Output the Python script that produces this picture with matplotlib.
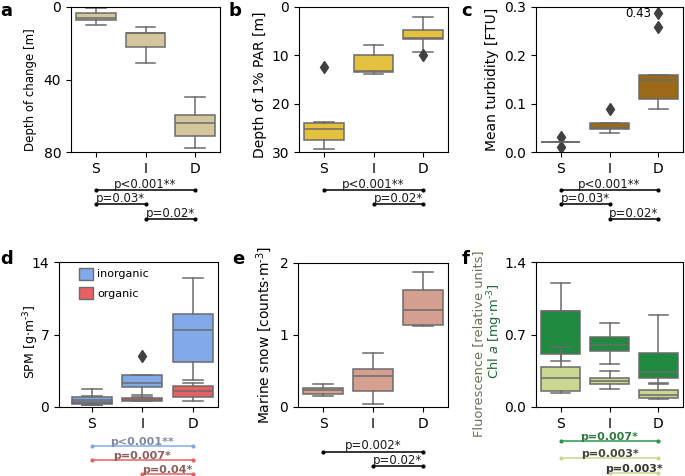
import matplotlib
matplotlib.use("Agg")
import matplotlib.pyplot as plt
from matplotlib.patches import Patch
from matplotlib.transforms import blended_transform_factory

plt.rcParams['font.family'] = 'DejaVu Sans'

# ---- data ----
groups = ['S', 'I', 'D']

# a: depth of change [m]
chg_q1 = [3.1, 14.2, 59.7]
chg_med = [5.9, 14.6, 64.2]
chg_q3 = [7.4, 22.0, 71.3]
chg_lo = [0.3, 10.8, 49.6]
chg_hi = [9.7, 30.7, 77.6]
chg_fl = [[], [], []]

# b: depth of 1% PAR [m]
par_q1 = [23.9, 9.9, 4.7]
par_med = [25.2, 13.3, 6.4]
par_q3 = [27.6, 13.5, 6.6]
par_lo = [23.8, 7.8, 2.1]
par_hi = [29.4, 13.8, 9.3]
par_fl = [[12.4], [], [10.0]]

# c: mean turbidity [FTU]
tur_q1 = [0.020, 0.047, 0.109]
tur_med = [0.020, 0.049, 0.150]
tur_q3 = [0.020, 0.060, 0.159]
tur_lo = [0.020, 0.039, 0.090]
tur_hi = [0.020, 0.060, 0.159]
tur_fl = [[0.031, 0.010], [0.089], [0.259, 0.287]]
tur_clip_label = '0.43'

# d: SPM [g m-3], inorganic / organic
inorg_q1 = [0.35, 1.93, 4.32]
inorg_med = [0.70, 2.35, 7.39]
inorg_q3 = [1.00, 3.09, 8.94]
inorg_lo = [0.20, 1.16, 2.58]
inorg_hi = [1.70, 3.09, 12.5]
inorg_fl = [[], [4.94], []]
org_q1 = [0.30, 0.61, 0.97]
org_med = [0.45, 0.72, 1.52]
org_q3 = [0.60, 0.90, 2.00]
org_lo = [0.20, 0.55, 0.55]
org_hi = [1.05, 0.95, 2.35]
org_fl = [[], [], []]

# e: marine snow [counts m-3]
snow_q1 = [0.185, 0.227, 1.139]
snow_med = [0.231, 0.435, 1.343]
snow_q3 = [0.264, 0.532, 1.625]
snow_lo = [0.157, 0.046, 1.125]
snow_hi = [0.324, 0.750, 1.875]
snow_fl = [[], [], []]

# f: chl a [mg m-3] and fluorescence [relative units]
chl_q1 = [0.512, 0.537, 0.283]
chl_med = [0.927, 0.595, 0.338]
chl_q3 = [0.927, 0.676, 0.525]
chl_lo = [0.444, 0.418, 0.225]
chl_hi = [1.200, 0.815, 0.888]
chl_fl = [[], [], []]
fluo_q1 = [0.154, 0.219, 0.087]
fluo_med = [0.283, 0.251, 0.119]
fluo_q3 = [0.386, 0.283, 0.161]
fluo_lo = [0.140, 0.174, 0.077]
fluo_hi = [0.580, 0.344, 0.232]
fluo_fl = [[], [], []]

# significance brackets: (from, to), label
sig_a = [((0, 2), 'p<0.001**'), ((0, 1), 'p=0.03*'), ((1, 2), 'p=0.02*')]
sig_b = [((0, 2), 'p<0.001**'), ((1, 2), 'p=0.02*')]
sig_c = [((0, 2), 'p<0.001**'), ((0, 1), 'p=0.03*'), ((1, 2), 'p=0.02*')]
sig_d = [((0, 2), 'p<0.001**'), ((0, 2), 'p=0.007*'), ((1, 2), 'p=0.04*')]
sig_e = [((0, 2), 'p=0.002*'), ((1, 2), 'p=0.02*')]
sig_f = [((0, 2), 'p=0.007*'), ((0, 2), 'p=0.003*'), ((1, 2), 'p=0.003*')]

EDGE = '0.42'
FS = 10


def make_stats(q1, med, q3, lo, hi, fl):
    return [dict(q1=q1[i], med=med[i], q3=q3[i], whislo=lo[i], whishi=hi[i],
                 fliers=fl[i], label=groups[i]) for i in range(len(groups))]


def draw_boxes(ax, stats, color):
    ax.bxp(stats, positions=range(len(groups)), widths=0.8, patch_artist=True,
           boxprops=dict(facecolor=color, edgecolor=EDGE, linewidth=1.1),
           medianprops=dict(color=EDGE, linewidth=1.1),
           whiskerprops=dict(color=EDGE, linewidth=1.1),
           capprops=dict(color=EDGE, linewidth=1.1),
           flierprops=dict(marker='d', markerfacecolor='0.25', markeredgecolor='0.25',
                           markersize=6.5))


def style_axis(ax, ylim, yticks, ylabel=None, xlim=(-0.5, 2.5), lsize=FS):
    ax.set_xlim(*xlim)
    ax.set_ylim(*ylim)
    ax.set_yticks(yticks)
    ax.set_xticks(range(len(groups)))
    ax.set_xticklabels(groups)
    ax.tick_params(labelsize=FS)
    if ylabel:
        ax.set_ylabel(ylabel, fontsize=lsize)


def draw_sig(ax, sig, rows, line_colors, text_colors, bold=False, fs=8.5):
    trans = blended_transform_factory(ax.transData, ax.transAxes)
    for ((x0, x1), lab), y, lc, tc in zip(sig, rows, line_colors, text_colors):
        ax.plot([x0, x1], [y, y], color=lc, lw=1.1, marker='o', markersize=2,
                transform=trans, clip_on=False)
        ax.text((x0 + x1) / 2, y - 0.005, lab, ha='center', va='bottom', fontsize=fs,
                color=tc, fontweight='bold' if bold else 'normal',
                transform=trans, clip_on=False)


W, H = 685, 476
fig = plt.figure(figsize=(6.85, 4.76), dpi=100)


def add_ax(l, r, t, b):
    return fig.add_axes([l / W, 1 - b / H, (r - l) / W, (b - t) / H])


ax_a = add_ax(71, 220, 7, 152)
ax_b = add_ax(299, 448, 7, 152)
ax_c = add_ax(536, 683, 7, 152)
ax_d = add_ax(59, 218, 262, 407)
ax_e = add_ax(298, 448, 263, 407)
ax_f = add_ax(536, 683, 262, 407)

# a
draw_boxes(ax_a, make_stats(chg_q1, chg_med, chg_q3, chg_lo, chg_hi, chg_fl), '#d3c59c')
style_axis(ax_a, (80, 0), [0, 40, 80], 'Depth of change [m]', lsize=8.5)
ax_a.yaxis.set_label_coords(-0.23, 0.43)
draw_sig(ax_a, sig_a, [-0.262, -0.359, -0.462], ['k'] * 3, ['0.1'] * 3)

# b
draw_boxes(ax_b, make_stats(par_q1, par_med, par_q3, par_lo, par_hi, par_fl), '#e3c13f')
style_axis(ax_b, (30, 0), [0, 10, 20, 30], 'Depth of 1% PAR [m]')
ax_b.yaxis.set_label_coords(-0.215, 0.466)
draw_sig(ax_b, sig_b, [-0.262, -0.359], ['k'] * 2, ['0.1'] * 2)

# c
draw_boxes(ax_c, make_stats(tur_q1, tur_med, tur_q3, tur_lo, tur_hi, tur_fl), '#9a6a18')
style_axis(ax_c, (0, 0.3), [0.0, 0.1, 0.2, 0.3], 'Mean turbidity [FTU]')
ax_c.annotate(tur_clip_label, (2, max(tur_fl[2])), xytext=(-5, 0), textcoords='offset points',
              ha='right', va='center', fontsize=8.5)
draw_sig(ax_c, sig_c, [-0.262, -0.359, -0.462], ['k'] * 3, ['0.1'] * 3)

# d
draw_boxes(ax_d, make_stats(org_q1, org_med, org_q3, org_lo, org_hi, org_fl), '#e86060')
draw_boxes(ax_d, make_stats(inorg_q1, inorg_med, inorg_q3, inorg_lo, inorg_hi, inorg_fl), '#82aaea')
style_axis(ax_d, (0, 14), [0, 7, 14], r'SPM [g$\cdot$m$^{\text{-}3}$]', xlim=(-0.65, 2.5),
           lsize=9)
ax_d.yaxis.set_label_coords(-0.115, 0.45)
ax_d.legend(handles=[Patch(facecolor='#82aaea', edgecolor=EDGE, label='inorganic'),
                     Patch(facecolor='#e86060', edgecolor=EDGE, label='organic')],
            loc='upper left', bbox_to_anchor=(0.125, 0.96), frameon=False, fontsize=8,
            handlelength=1.25, handleheight=1.25, borderaxespad=0, borderpad=0,
            labelspacing=0.7, handletextpad=0.4)
draw_sig(ax_d, sig_d, [-0.269, -0.366, -0.462], ['#82aaea', '#e86060', '#e86060'],
         ['#7d89a3', '#8c5f5f', '#8c5f5f'], bold=True, fs=8)

# e
draw_boxes(ax_e, make_stats(snow_q1, snow_med, snow_q3, snow_lo, snow_hi, snow_fl), '#d5a08f')
style_axis(ax_e, (0, 2), [0, 1, 2], r'Marine snow [counts$\cdot$m$^{\text{-}3}$]')
draw_sig(ax_e, sig_e, [-0.31, -0.41], ['k'] * 2, ['0.1'] * 2)

# f
draw_boxes(ax_f, make_stats(chl_q1, chl_med, chl_q3, chl_lo, chl_hi, chl_fl), '#208a40')
draw_boxes(ax_f, make_stats(fluo_q1, fluo_med, fluo_q3, fluo_lo, fluo_hi, fluo_fl), '#c8d890')
style_axis(ax_f, (0, 1.4), [0.0, 0.7, 1.4])
ax_f.set_yticklabels(['0.0', '0.7', '1.4'])
fig.text(479 / W, 1 - 344 / H, 'Fluorescence [relative units]', rotation=90, ha='center',
         va='center', fontsize=9.4, color='#6f6f55')
fig.text(495 / W, 1 - 331 / H, r'Chl $\it{a}$ [mg$\cdot$m$^{\text{-}3}$]', rotation=90,
         ha='center', va='center', fontsize=9.4, color='#1d6b37')
draw_sig(ax_f, sig_f, [-0.234, -0.352, -0.455], ['#2a9a4a', '#c8d890', '#c8d890'],
         ['#2f7a45', '#45453a', '#35352d'], bold=True, fs=8)

# panel letters
for lab, x, y in [('a', 0, 2), ('b', 228, 2), ('c', 461, 2),
                  ('d', 0, 250), ('e', 232, 250), ('f', 462, 250)]:
    fig.text(x / W, 1 - y / H, lab, ha='left', va='top', fontsize=13, fontweight='bold')

fig.savefig('out.png', dpi=100)
